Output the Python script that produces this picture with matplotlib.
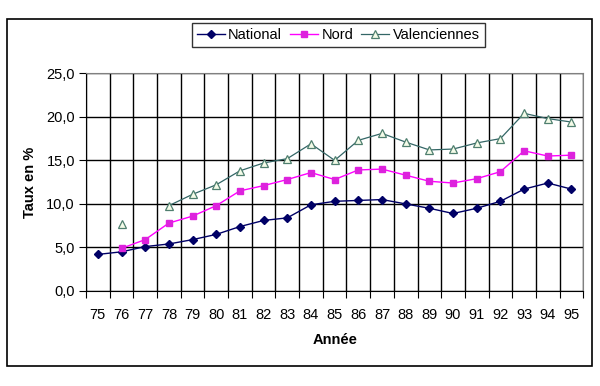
import numpy as np
import matplotlib
matplotlib.use("Agg")
import matplotlib.pyplot as plt
from matplotlib.patches import Rectangle
from matplotlib.ticker import FuncFormatter, FixedLocator

plt.rcParams["font.family"] = ["Liberation Sans", "DejaVu Sans"]

# ── Données ──────────────────────────────────────────────────────────────────
annees = ["75", "76", "77", "78", "79", "80", "81", "82", "83", "84", "85",
          "86", "87", "88", "89", "90", "91", "92", "93", "94", "95"]
national = [4.2, 4.5, 5.1, 5.4, 5.9, 6.5, 7.4, 8.1, 8.4, 9.9, 10.3,
            10.4, 10.5, 10.0, 9.5, 8.9, 9.5, 10.3, 11.7, 12.4, 11.7]
nord = [np.nan, 4.9, 5.9, 7.8, 8.6, 9.8, 11.5, 12.1, 12.8, 13.6, 12.8,
        13.9, 14.0, 13.3, 12.6, 12.4, 12.9, 13.7, 16.1, 15.5, 15.6]
valenciennes = [np.nan, 7.7, np.nan, 9.8, 11.1, 12.2, 13.8, 14.7, 15.2, 16.9, 15.0,
                17.3, 18.1, 17.1, 16.2, 16.3, 17.0, 17.5, 20.4, 19.8, 19.4]

NAVY = "#000066"
MAGENTA = "#FF00FF"
TEAL = "#336666"

W, H = 600, 386
fig = plt.figure(figsize=(W / 100, H / 100), dpi=100)

# cadre extérieur
fig.patches.append(Rectangle((6.7 / W, 1 - 366 / H), (592.3 - 6.7) / W,
                             (366 - 19.3) / H, transform=fig.transFigure,
                             fill=False, edgecolor="black", lw=1.2))

x0, x1, y0, y1 = 86, 583.3, 73.3, 291
ax = fig.add_axes([x0 / W, 1 - y1 / H, (x1 - x0) / W, (y1 - y0) / H])

x = np.arange(len(annees))
ax.plot(x, national, color=NAVY, lw=1, marker="D", ms=4.5,
        mfc=NAVY, mec=NAVY, label="National")
ax.plot(x, nord, color=MAGENTA, lw=1, marker="s", ms=5,
        mfc="#DD22DD", mec="#DD22DD", label="Nord")
ax.plot(x, valenciennes, color=TEAL, lw=0.9, marker="^", ms=6,
        mfc="#F4FBE8", mec="#4F7F6F", mew=0.9, label="Valenciennes")

ax.set_xlim(-0.5, len(annees) - 0.5)
ax.set_ylim(0, 25)
ax.set_yticks(np.arange(0, 26, 5))
ax.yaxis.set_major_formatter(FuncFormatter(lambda v, _: f"{v:.1f}".replace(".", ",")))

# graduations x aux limites des catégories, étiquettes au centre
ax.xaxis.set_major_locator(FixedLocator(np.arange(len(annees) + 1) - 0.5))
ax.xaxis.set_minor_locator(FixedLocator(x))
ax.set_xticklabels([], minor=False)
ax.set_xticklabels(annees, minor=True)
ax.tick_params(axis="x", which="major", length=5, direction="out", color="black")
ax.tick_params(axis="x", which="minor", length=0, pad=12, labelsize=10.5)
ax.tick_params(axis="y", length=5, direction="out", labelsize=10.5, pad=3)

ax.grid(True, which="major", color="black", lw=1)
ax.set_axisbelow(True)
for s in ["top", "right"]:
    ax.spines[s].set_color("#808080")
for s in ["left", "bottom"]:
    ax.spines[s].set_color("black")

ax.set_xlabel("Année", fontsize=10.5, fontweight="bold", labelpad=8)
ax.set_ylabel("Taux en %", fontsize=10.5, fontweight="bold", labelpad=7)

leg = fig.legend(loc="upper left", bbox_to_anchor=(191.7 / W, 1 - 22.7 / H),
                 ncol=3, frameon=True, fancybox=False, fontsize=10.5,
                 handlelength=1.9, handletextpad=0.25, columnspacing=0.55,
                 borderpad=0.35, borderaxespad=0)
leg.get_frame().set_edgecolor("black")
leg.get_frame().set_linewidth(1)

fig.savefig("out.png", dpi=100)
